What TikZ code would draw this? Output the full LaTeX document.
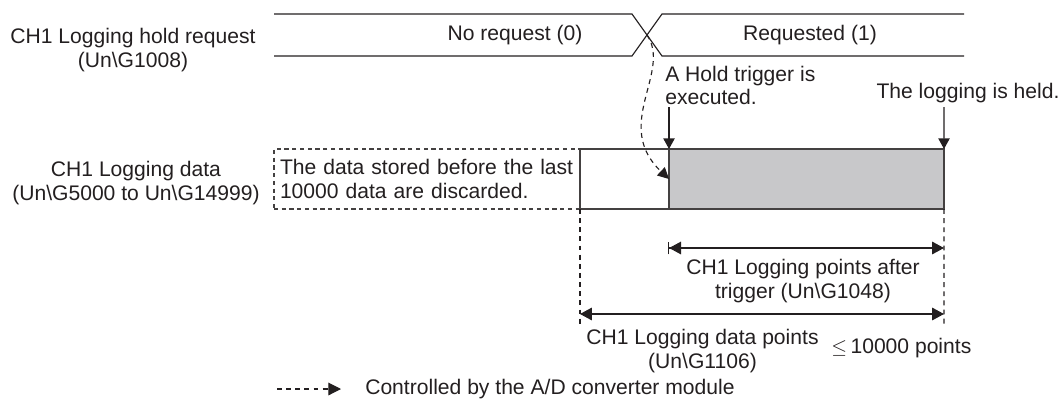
\documentclass[tikz,border=0pt]{standalone}
\usepackage{fontspec}
\setmainfont{Liberation Sans}
\usetikzlibrary{arrows.meta}
\definecolor{HeldGray}{RGB}{200,200,202}
\definecolor{Ink}{RGB}{35,31,32}
\newcommand\lblfont{\fontsize{15}{16.5}\selectfont}
\newcommand\pxu{0.025cm}

\begin{document}
\begin{tikzpicture}[
    x=0.025cm, y=-0.025cm,
    every node/.style={font=\lblfont, text=Ink, inner sep=0pt},
    sig/.style={Ink, line width=0.8pt},
    blk/.style={draw=Ink!85, line width=1pt, anchor=north west, outer sep=0pt, minimum height=60*\pxu},
    ctrl/.style={Ink, line width=0.8pt, dash pattern=on 3.5pt off 3pt},
    tip/.style={Ink, line width=0.8pt, -{Triangle[length=7.5pt,width=8pt]}},
    dim/.style={Ink, line width=0.8pt, {Triangle[length=8.5pt,width=9pt]}-{Triangle[length=8.5pt,width=9pt]}},
    dimbar/.style={Ink, line width=0.8pt, {Bar[width=9pt]Triangle[length=8.5pt,width=9pt]}-{Triangle[length=8.5pt,width=9pt]}}
  ]
  \useasboundingbox (0,0) rectangle (1063,408);

  % Hold request signal
  \node (reqlbl) at (133,50) [align=center] {CH1 Logging hold request\\(Un\textbackslash G1008)};
  \coordinate (cross) at (647,35);
  \draw[sig] (274,14) -- (632,14) -- (662,56) -- (964,56);
  \draw[sig] (274,56) -- (632,56) -- (662,14) -- (964,14);
  \node (noreq) at (515,35) {No request (0)};
  \node (req) at (810,35) {Requested (1)};

  % Logging data blocks
  \node (datalbl) at (136,183) [align=center] {CH1 Logging data\\(Un\textbackslash G5000 to Un\textbackslash G14999)};
  \node[blk, dash pattern=on 3pt off 2.5pt, minimum width=306*\pxu, text width=294*\pxu, inner xsep=6*\pxu, align=left] (discard) at (274,149)
    {The data stored before the last\\10000 data are discarded.};
  \node[blk, minimum width=89*\pxu] (pre) at (580,149) {};
  \node[blk, fill=HeldGray, minimum width=275*\pxu] (held) at (669,149) {};

  % Trigger and hold
  \node (trglbl) at (665,85.5) [anchor=west, align=left] {A Hold trigger is\\executed.};
  \node (hldlbl) at (968,98) [anchor=base] {The logging is held.};
  \coordinate (trgtop) at (669,107);
  \coordinate (hldtop) at (944,107);
  \draw[tip] (trgtop) -- (held.north west);
  \draw[tip] (hldtop) -- (held.north east);
  \draw[ctrl, -{Triangle[length=8pt,width=8pt]}] (cross) .. controls (672,72) and (612,125) .. (held.west);

  % Point counts
  \coordinate (lft) at (580,325);
  \coordinate (rgt) at (944,327);
  \draw[ctrl] (pre.south west) -- (lft);
  \draw[ctrl] (held.south east) -- (rgt);
  \coordinate (aft0) at (668,248);
  \coordinate (aft1) at (944,248);
  \draw[dimbar] (aft0) -- (aft1);
  \coordinate (all0) at (580,314);
  \coordinate (all1) at (944,314);
  \draw[dim] (all0) -- (all1);
  \node (aftlbl) at (803,281) [align=center] {CH1 Logging points after\\trigger (Un\textbackslash G1048)};
  \node (alllbl) at (702.5,351) [align=center] {CH1 Logging data points\\(Un\textbackslash G1106)};
  \node (maxlbl) at (831,353) [anchor=base west] {$\leq$\,10000 points};

  % Legend
  \coordinate (lgd0) at (277,389);
  \coordinate (lgd1) at (341,389);
  \draw[ctrl, -{Triangle[length=9pt,width=9pt]}] (lgd0) -- (lgd1);
  \node (lgdlbl) at (365,389) [anchor=west] {Controlled by the A/D converter module};
\end{tikzpicture}
\end{document}
